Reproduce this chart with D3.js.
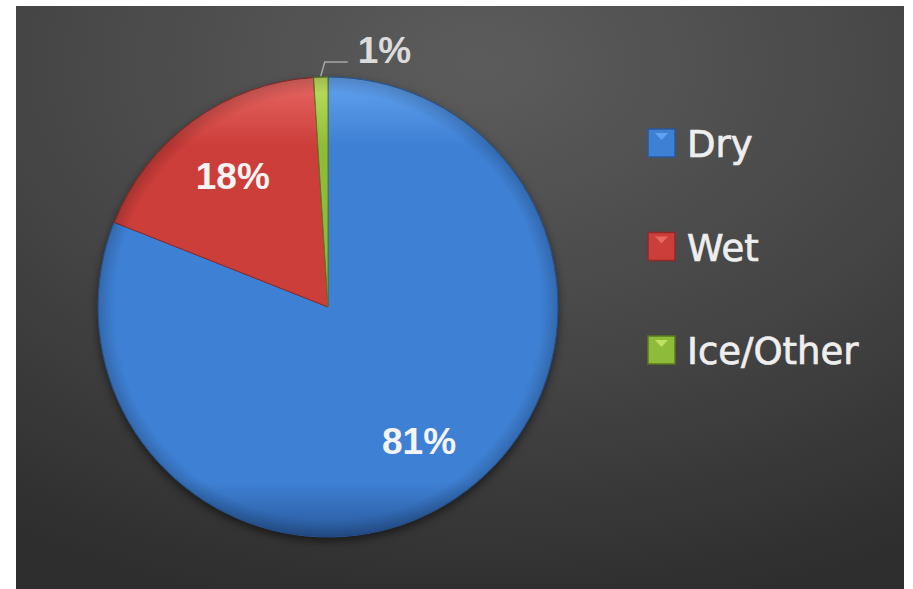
<!DOCTYPE html>
<html>
<head>
<meta charset="utf-8">
<script src="https://cdn.jsdelivr.net/npm/d3@7"></script>
<style>
  html, body { margin: 0; padding: 0; background: #ffffff; }
  svg { display: block; }
</style>
</head>
<body>
<svg id="chart" width="913" height="589"></svg>
<script>
// ---- data ----
const categories = ["Dry", "Wet", "Ice/Other"];
const values = [81, 18, 1];
const labels = ["81%", "18%", "1%"];
const colors = ["#3e80d4", "#cc3e3a", "#8fbb3a"];
const lightColors = ["#62a2f0", "#e86864", "#c0e060"];
const darkColors = ["#28589a", "#8e2a28", "#5a7a20"];

const svg = d3.select("#chart");
const defs = svg.append("defs");

// background
const bg = defs.append("radialGradient").attr("id", "bg")
  .attr("cx", "0.52").attr("cy", "0.1").attr("r", "0.95");
bg.append("stop").attr("offset", "0").attr("stop-color", "#5c5c5c");
bg.append("stop").attr("offset", "0.55").attr("stop-color", "#454545");
bg.append("stop").attr("offset", "1").attr("stop-color", "#2e2e2e");

svg.append("rect").attr("x", 16).attr("y", 6).attr("width", 888).attr("height", 583)
  .attr("fill", "url(#bg)");

const cx = 328, cy = 307, R = 230;

// slice gradients
colors.forEach((c, i) => {
  const g = defs.append("linearGradient").attr("id", "sg" + i)
    .attr("gradientUnits", "userSpaceOnUse")
    .attr("x1", 0).attr("y1", -R).attr("x2", 0).attr("y2", R);
  g.append("stop").attr("offset", "0").attr("stop-color", lightColors[i]);
  g.append("stop").attr("offset", "0.15").attr("stop-color", c);
  g.append("stop").attr("offset", "0.88").attr("stop-color", c);
  g.append("stop").attr("offset", "1").attr("stop-color", darkColors[i]);
});

// rim shading
const rim = defs.append("radialGradient").attr("id", "rim")
  .attr("gradientUnits", "userSpaceOnUse")
  .attr("cx", 0).attr("cy", 0).attr("r", R);
rim.append("stop").attr("offset", "0.93").attr("stop-color", "#000000").attr("stop-opacity", 0);
rim.append("stop").attr("offset", "1").attr("stop-color", "#000000").attr("stop-opacity", 0.18);

const blur = defs.append("filter").attr("id", "blur")
  .attr("x", "-20%").attr("y", "-20%").attr("width", "140%").attr("height", "140%");
blur.append("feGaussianBlur").attr("stdDeviation", 5);

// ---- pie ----
const pie = d3.pie().sort(null).value(d => d)(values);
const arc = d3.arc().innerRadius(0).outerRadius(R);
const labelArc = d3.arc().innerRadius(162).outerRadius(162);

const g = svg.append("g").attr("transform", `translate(${cx},${cy})`);

// shadow
g.append("circle").attr("cx", 0).attr("cy", 4).attr("r", R)
  .attr("fill", "#000").attr("opacity", 0.55).attr("filter", "url(#blur)");

g.selectAll("path.slice").data(pie).join("path")
  .attr("class", "slice")
  .attr("d", arc)
  .attr("fill", (d, i) => `url(#sg${i})`)
  .attr("stroke", (d, i) => darkColors[i])
  .attr("stroke-width", 1)
  .attr("stroke-linejoin", "round");

g.append("circle").attr("r", R).attr("fill", "url(#rim)").attr("pointer-events", "none");

// labels
const lblFont = "'Liberation Sans', Arial, sans-serif";
g.selectAll("text.in").data(pie.slice(0, 2)).join("text")
  .attr("class", "in")
  .attr("x", d => labelArc.centroid(d)[0])
  .attr("y", d => labelArc.centroid(d)[1] + 13)
  .attr("text-anchor", "middle")
  .attr("font-family", lblFont)
  .attr("font-size", 37)
  .attr("font-weight", "bold")
  .attr("fill", "#f4f4f4")
  .text((d, i) => labels[i]);

// small slice: outside label with leader line
const small = pie[2];
const mid = (small.startAngle + small.endAngle) / 2;
const sx = Math.sin(mid) * (R + 1), sy = -Math.cos(mid) * (R + 1);
const ex = sx + 4, ey = sy - 14;
const fx = ex + 23;
g.append("path")
  .attr("d", `M${sx},${sy}L${ex},${ey}L${fx},${ey}`)
  .attr("fill", "none")
  .attr("stroke", "#a6a6a6")
  .attr("stroke-width", 1.5);
g.append("text")
  .attr("x", fx + 10).attr("y", ey + 1)
  .attr("font-family", lblFont)
  .attr("font-size", 37)
  .attr("font-weight", "bold")
  .attr("fill", "#dcdcdc")
  .text(labels[2]);

// ---- legend ----
const legendY = d3.scalePoint().domain(categories).range([143, 350]);
const lg = svg.append("g");
const items = lg.selectAll("g").data(categories).join("g")
  .attr("transform", d => `translate(648,${legendY(d)})`);
items.append("rect")
  .attr("x", 0).attr("y", -14).attr("width", 27).attr("height", 28)
  .attr("fill", (d, i) => colors[i])
  .attr("stroke", (d, i) => darkColors[i]).attr("stroke-width", 1.5);
items.append("path")
  .attr("d", "M7,-10L20,-10L13.5,-3Z")
  .attr("fill", (d, i) => lightColors[i]);
items.append("text")
  .attr("x", 39).attr("y", 14)
  .attr("font-family", "'DejaVu Sans', sans-serif")
  .attr("font-size", 37)
  .attr("fill", "#eeeeee")
  .attr("stroke", "#eeeeee")
  .attr("stroke-width", 0.7)
  .text(d => d);
</script>
</body>
</html>
